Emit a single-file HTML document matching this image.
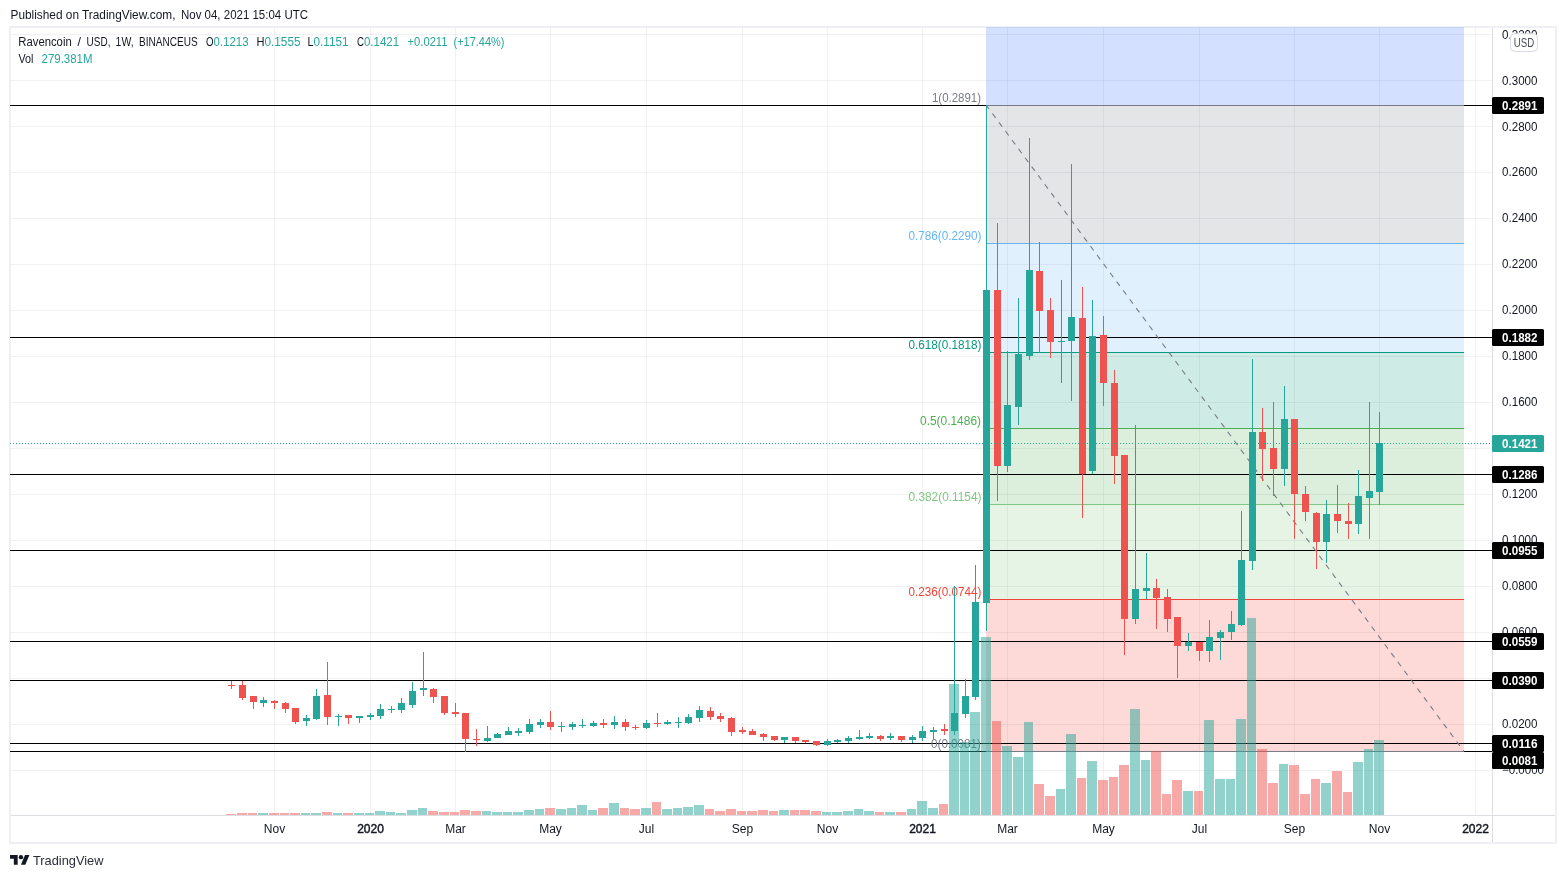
<!DOCTYPE html>
<html lang="en"><head><meta charset="utf-8"><title>RVNUSD 1W - TradingView</title>
<style>html,body{margin:0;padding:0;background:#fff;}body{width:1566px;height:878px;overflow:hidden;}svg{display:block;font-family:'Liberation Sans', sans-serif;}text{white-space:pre;}</style></head><body>
<svg width="1566" height="878" viewBox="0 0 1566 878">
<rect width="1566" height="878" fill="#fff"/>
<rect x="10" y="27" width="1546" height="816" fill="#fff" stroke="#eff0f5" stroke-width="2"/>
<g shape-rendering="crispEdges" fill="#2a2e39" fill-opacity="0.065">
<rect x="274" y="28" width="1" height="787"/>
<rect x="370" y="28" width="1" height="787"/>
<rect x="455" y="28" width="1" height="787"/>
<rect x="550" y="28" width="1" height="787"/>
<rect x="646" y="28" width="1" height="787"/>
<rect x="742" y="28" width="1" height="787"/>
<rect x="827" y="28" width="1" height="787"/>
<rect x="922" y="28" width="1" height="787"/>
<rect x="1007" y="28" width="1" height="787"/>
<rect x="1103" y="28" width="1" height="787"/>
<rect x="1199" y="28" width="1" height="787"/>
<rect x="1294" y="28" width="1" height="787"/>
<rect x="1379" y="28" width="1" height="787"/>
<rect x="1475" y="28" width="1" height="787"/>
<rect x="11" y="34" width="1481" height="1"/>
<rect x="11" y="80" width="1481" height="1"/>
<rect x="11" y="126" width="1481" height="1"/>
<rect x="11" y="172" width="1481" height="1"/>
<rect x="11" y="218" width="1481" height="1"/>
<rect x="11" y="264" width="1481" height="1"/>
<rect x="11" y="310" width="1481" height="1"/>
<rect x="11" y="356" width="1481" height="1"/>
<rect x="11" y="402" width="1481" height="1"/>
<rect x="11" y="448" width="1481" height="1"/>
<rect x="11" y="494" width="1481" height="1"/>
<rect x="11" y="540" width="1481" height="1"/>
<rect x="11" y="586" width="1481" height="1"/>
<rect x="11" y="632" width="1481" height="1"/>
<rect x="11" y="678" width="1481" height="1"/>
<rect x="11" y="724" width="1481" height="1"/>
<rect x="11" y="770" width="1481" height="1"/>
</g>
<g shape-rendering="crispEdges">
<rect x="986" y="27" width="478" height="78" fill="#2962ff" fill-opacity="0.2"/>
<rect x="986" y="105" width="478" height="138" fill="#787b86" fill-opacity="0.2"/>
<rect x="986" y="243" width="478" height="109" fill="#64b5f6" fill-opacity="0.2"/>
<rect x="986" y="352" width="478" height="76" fill="#089981" fill-opacity="0.2"/>
<rect x="986" y="428" width="478" height="76" fill="#4caf50" fill-opacity="0.2"/>
<rect x="986" y="504" width="478" height="95" fill="#81c784" fill-opacity="0.2"/>
<rect x="986" y="599" width="478" height="152" fill="#f44336" fill-opacity="0.2"/>
</g>
<g shape-rendering="crispEdges" fill="#000">
<rect x="10" y="105" width="1482" height="1"/>
<rect x="10" y="337" width="1482" height="1"/>
<rect x="10" y="474" width="1482" height="1"/>
<rect x="10" y="550" width="1482" height="1"/>
<rect x="10" y="641" width="1482" height="1"/>
<rect x="10" y="680" width="1482" height="1"/>
<rect x="10" y="743" width="1482" height="1"/>
<rect x="10" y="751" width="1482" height="1"/>
</g>
<g shape-rendering="crispEdges">
<rect x="986" y="105" width="478" height="1" fill="#787b86"/>
<rect x="986" y="243" width="478" height="1" fill="#64b5f6"/>
<rect x="986" y="352" width="478" height="1" fill="#089981"/>
<rect x="986" y="428" width="478" height="1" fill="#4caf50"/>
<rect x="986" y="504" width="478" height="1" fill="#81c784"/>
<rect x="986" y="599" width="478" height="1" fill="#f44336"/>
<rect x="986" y="751" width="478" height="1" fill="#787b86"/>
</g>
<line x1="986.5" y1="105.5" x2="1464" y2="751.5" stroke="#787b86" stroke-width="1.1" stroke-dasharray="5.4 5.6" stroke-dashoffset="1.07"/>
<text x="932" y="101.7" font-size="12" fill="#787b86" textLength="49" lengthAdjust="spacingAndGlyphs">1(0.2891)</text>
<text x="908.5" y="239.7" font-size="12" fill="#64b5f6" textLength="73" lengthAdjust="spacingAndGlyphs">0.786(0.2290)</text>
<text x="908.5" y="348.7" font-size="12" fill="#089981" textLength="73" lengthAdjust="spacingAndGlyphs">0.618(0.1818)</text>
<text x="920" y="424.7" font-size="12" fill="#4caf50" textLength="61" lengthAdjust="spacingAndGlyphs">0.5(0.1486)</text>
<text x="908.5" y="500.7" font-size="12" fill="#81c784" textLength="73" lengthAdjust="spacingAndGlyphs">0.382(0.1154)</text>
<text x="908.5" y="595.7" font-size="12" fill="#f44336" textLength="73" lengthAdjust="spacingAndGlyphs">0.236(0.0744)</text>
<text x="931" y="747.7" font-size="12" fill="#787b86" textLength="50" lengthAdjust="spacingAndGlyphs">0(0.0081)</text>
<g shape-rendering="crispEdges" fill-opacity="0.5">
<rect x="226" y="814" width="10" height="1" fill="#ef5350"/>
<rect x="237" y="813" width="10" height="2" fill="#ef5350"/>
<rect x="248" y="813" width="9" height="2" fill="#ef5350"/>
<rect x="258" y="813" width="10" height="2" fill="#26a69a"/>
<rect x="269" y="813" width="10" height="2" fill="#ef5350"/>
<rect x="280" y="813" width="9" height="2" fill="#ef5350"/>
<rect x="290" y="813" width="10" height="2" fill="#ef5350"/>
<rect x="301" y="813" width="9" height="2" fill="#26a69a"/>
<rect x="311" y="813" width="10" height="2" fill="#26a69a"/>
<rect x="322" y="812" width="10" height="3" fill="#ef5350"/>
<rect x="333" y="813" width="9" height="2" fill="#26a69a"/>
<rect x="343" y="813" width="10" height="2" fill="#ef5350"/>
<rect x="354" y="813" width="10" height="2" fill="#26a69a"/>
<rect x="365" y="813" width="9" height="2" fill="#26a69a"/>
<rect x="375" y="811" width="10" height="4" fill="#26a69a"/>
<rect x="386" y="812" width="9" height="3" fill="#26a69a"/>
<rect x="396" y="813" width="10" height="2" fill="#26a69a"/>
<rect x="407" y="810" width="10" height="5" fill="#26a69a"/>
<rect x="418" y="808" width="9" height="7" fill="#26a69a"/>
<rect x="428" y="811" width="10" height="4" fill="#ef5350"/>
<rect x="439" y="812" width="10" height="3" fill="#ef5350"/>
<rect x="450" y="812" width="9" height="3" fill="#ef5350"/>
<rect x="460" y="810" width="10" height="5" fill="#ef5350"/>
<rect x="471" y="811" width="10" height="4" fill="#ef5350"/>
<rect x="482" y="811" width="9" height="4" fill="#26a69a"/>
<rect x="492" y="812" width="10" height="3" fill="#26a69a"/>
<rect x="503" y="812" width="9" height="3" fill="#26a69a"/>
<rect x="513" y="812" width="10" height="3" fill="#26a69a"/>
<rect x="524" y="810" width="10" height="5" fill="#26a69a"/>
<rect x="535" y="809" width="9" height="6" fill="#26a69a"/>
<rect x="545" y="808" width="10" height="7" fill="#ef5350"/>
<rect x="556" y="809" width="10" height="6" fill="#26a69a"/>
<rect x="567" y="808" width="9" height="7" fill="#26a69a"/>
<rect x="577" y="805" width="10" height="10" fill="#26a69a"/>
<rect x="588" y="810" width="9" height="5" fill="#26a69a"/>
<rect x="598" y="808" width="10" height="7" fill="#ef5350"/>
<rect x="609" y="803" width="10" height="12" fill="#26a69a"/>
<rect x="620" y="808" width="9" height="7" fill="#ef5350"/>
<rect x="630" y="809" width="10" height="6" fill="#ef5350"/>
<rect x="641" y="808" width="10" height="7" fill="#26a69a"/>
<rect x="652" y="802" width="9" height="13" fill="#ef5350"/>
<rect x="662" y="809" width="10" height="6" fill="#26a69a"/>
<rect x="673" y="808" width="9" height="7" fill="#26a69a"/>
<rect x="683" y="807" width="10" height="8" fill="#26a69a"/>
<rect x="694" y="805" width="10" height="10" fill="#26a69a"/>
<rect x="705" y="809" width="9" height="6" fill="#ef5350"/>
<rect x="715" y="811" width="10" height="4" fill="#ef5350"/>
<rect x="726" y="809" width="10" height="6" fill="#ef5350"/>
<rect x="737" y="811" width="9" height="4" fill="#ef5350"/>
<rect x="747" y="811" width="10" height="4" fill="#ef5350"/>
<rect x="758" y="810" width="10" height="5" fill="#ef5350"/>
<rect x="769" y="811" width="9" height="4" fill="#ef5350"/>
<rect x="779" y="810" width="10" height="5" fill="#26a69a"/>
<rect x="790" y="810" width="9" height="5" fill="#ef5350"/>
<rect x="800" y="810" width="10" height="5" fill="#ef5350"/>
<rect x="811" y="811" width="10" height="4" fill="#ef5350"/>
<rect x="822" y="812" width="9" height="3" fill="#26a69a"/>
<rect x="832" y="812" width="10" height="3" fill="#26a69a"/>
<rect x="843" y="811" width="10" height="4" fill="#26a69a"/>
<rect x="854" y="809" width="9" height="6" fill="#26a69a"/>
<rect x="864" y="811" width="10" height="4" fill="#26a69a"/>
<rect x="875" y="812" width="9" height="3" fill="#ef5350"/>
<rect x="885" y="812" width="10" height="3" fill="#26a69a"/>
<rect x="896" y="812" width="10" height="3" fill="#ef5350"/>
<rect x="907" y="809" width="9" height="6" fill="#26a69a"/>
<rect x="917" y="801" width="10" height="14" fill="#26a69a"/>
<rect x="928" y="808" width="10" height="7" fill="#26a69a"/>
<rect x="939" y="804" width="9" height="11" fill="#ef5350"/>
<rect x="949" y="684" width="10" height="131" fill="#26a69a"/>
<rect x="960" y="742" width="9" height="73" fill="#26a69a"/>
<rect x="970" y="712" width="10" height="103" fill="#26a69a"/>
<rect x="981" y="637" width="10" height="178" fill="#26a69a"/>
<rect x="992" y="721" width="9" height="94" fill="#ef5350"/>
<rect x="1002" y="746" width="10" height="69" fill="#26a69a"/>
<rect x="1013" y="757" width="10" height="58" fill="#26a69a"/>
<rect x="1024" y="722" width="9" height="93" fill="#26a69a"/>
<rect x="1034" y="784" width="10" height="31" fill="#ef5350"/>
<rect x="1045" y="796" width="10" height="19" fill="#ef5350"/>
<rect x="1056" y="789" width="9" height="26" fill="#26a69a"/>
<rect x="1066" y="734" width="10" height="81" fill="#26a69a"/>
<rect x="1077" y="778" width="9" height="37" fill="#ef5350"/>
<rect x="1087" y="761" width="10" height="54" fill="#26a69a"/>
<rect x="1098" y="780" width="10" height="35" fill="#ef5350"/>
<rect x="1109" y="777" width="9" height="38" fill="#ef5350"/>
<rect x="1119" y="765" width="10" height="50" fill="#ef5350"/>
<rect x="1130" y="709" width="10" height="106" fill="#26a69a"/>
<rect x="1141" y="760" width="9" height="55" fill="#26a69a"/>
<rect x="1151" y="751" width="10" height="64" fill="#ef5350"/>
<rect x="1162" y="794" width="9" height="21" fill="#ef5350"/>
<rect x="1172" y="780" width="10" height="35" fill="#ef5350"/>
<rect x="1183" y="791" width="10" height="24" fill="#26a69a"/>
<rect x="1194" y="791" width="9" height="24" fill="#ef5350"/>
<rect x="1204" y="720" width="10" height="95" fill="#26a69a"/>
<rect x="1215" y="779" width="10" height="36" fill="#26a69a"/>
<rect x="1226" y="779" width="9" height="36" fill="#26a69a"/>
<rect x="1236" y="719" width="10" height="96" fill="#26a69a"/>
<rect x="1247" y="618" width="9" height="197" fill="#26a69a"/>
<rect x="1257" y="749" width="10" height="66" fill="#ef5350"/>
<rect x="1268" y="783" width="10" height="32" fill="#ef5350"/>
<rect x="1279" y="764" width="9" height="51" fill="#26a69a"/>
<rect x="1289" y="765" width="10" height="50" fill="#ef5350"/>
<rect x="1300" y="794" width="10" height="21" fill="#ef5350"/>
<rect x="1311" y="779" width="9" height="36" fill="#ef5350"/>
<rect x="1321" y="783" width="10" height="32" fill="#26a69a"/>
<rect x="1332" y="771" width="10" height="44" fill="#ef5350"/>
<rect x="1343" y="792" width="9" height="23" fill="#ef5350"/>
<rect x="1353" y="762" width="10" height="53" fill="#26a69a"/>
<rect x="1364" y="749" width="9" height="66" fill="#26a69a"/>
<rect x="1374" y="740" width="10" height="75" fill="#26a69a"/>
</g>
<g shape-rendering="crispEdges">
<rect x="231" y="681" width="1" height="8" fill="#ef5350"/>
<rect x="228" y="685" width="7" height="1" fill="#ef5350"/>
<rect x="242" y="681" width="1" height="19" fill="#ef5350"/>
<rect x="239" y="685" width="7" height="13" fill="#ef5350"/>
<rect x="253" y="696" width="1" height="13" fill="#ef5350"/>
<rect x="250" y="696" width="7" height="6" fill="#ef5350"/>
<rect x="263" y="697" width="1" height="10" fill="#26a69a"/>
<rect x="260" y="700" width="7" height="3" fill="#26a69a"/>
<rect x="274" y="700" width="1" height="9" fill="#ef5350"/>
<rect x="271" y="701" width="7" height="2" fill="#ef5350"/>
<rect x="285" y="702" width="1" height="11" fill="#ef5350"/>
<rect x="282" y="703" width="7" height="6" fill="#ef5350"/>
<rect x="295" y="708" width="1" height="16" fill="#ef5350"/>
<rect x="292" y="708" width="7" height="14" fill="#ef5350"/>
<rect x="306" y="715" width="1" height="11" fill="#26a69a"/>
<rect x="303" y="718" width="7" height="3" fill="#26a69a"/>
<rect x="316" y="689" width="1" height="31" fill="#26a69a"/>
<rect x="313" y="696" width="7" height="23" fill="#26a69a"/>
<rect x="327" y="662" width="1" height="63" fill="#ef5350"/>
<rect x="324" y="695" width="7" height="22" fill="#ef5350"/>
<rect x="338" y="714" width="1" height="12" fill="#26a69a"/>
<rect x="335" y="716" width="7" height="1" fill="#26a69a"/>
<rect x="348" y="715" width="1" height="9" fill="#ef5350"/>
<rect x="345" y="715" width="7" height="3" fill="#ef5350"/>
<rect x="359" y="716" width="1" height="7" fill="#26a69a"/>
<rect x="356" y="716" width="7" height="2" fill="#26a69a"/>
<rect x="370" y="713" width="1" height="7" fill="#26a69a"/>
<rect x="367" y="715" width="7" height="2" fill="#26a69a"/>
<rect x="380" y="704" width="1" height="15" fill="#26a69a"/>
<rect x="377" y="709" width="7" height="7" fill="#26a69a"/>
<rect x="391" y="706" width="1" height="7" fill="#26a69a"/>
<rect x="388" y="709" width="7" height="1" fill="#26a69a"/>
<rect x="401" y="698" width="1" height="15" fill="#26a69a"/>
<rect x="398" y="703" width="7" height="7" fill="#26a69a"/>
<rect x="412" y="682" width="1" height="26" fill="#26a69a"/>
<rect x="409" y="691" width="7" height="14" fill="#26a69a"/>
<rect x="423" y="652" width="1" height="44" fill="#26a69a"/>
<rect x="420" y="688" width="7" height="2" fill="#26a69a"/>
<rect x="433" y="688" width="1" height="15" fill="#ef5350"/>
<rect x="430" y="689" width="7" height="8" fill="#ef5350"/>
<rect x="444" y="696" width="1" height="19" fill="#ef5350"/>
<rect x="441" y="696" width="7" height="17" fill="#ef5350"/>
<rect x="455" y="703" width="1" height="14" fill="#ef5350"/>
<rect x="452" y="712" width="7" height="2" fill="#ef5350"/>
<rect x="465" y="713" width="1" height="39" fill="#ef5350"/>
<rect x="462" y="713" width="7" height="26" fill="#ef5350"/>
<rect x="476" y="729" width="1" height="17" fill="#ef5350"/>
<rect x="473" y="739" width="7" height="1" fill="#ef5350"/>
<rect x="487" y="726" width="1" height="16" fill="#26a69a"/>
<rect x="484" y="738" width="7" height="3" fill="#26a69a"/>
<rect x="497" y="733" width="1" height="5" fill="#26a69a"/>
<rect x="494" y="734" width="7" height="4" fill="#26a69a"/>
<rect x="508" y="727" width="1" height="8" fill="#26a69a"/>
<rect x="505" y="731" width="7" height="4" fill="#26a69a"/>
<rect x="518" y="728" width="1" height="8" fill="#26a69a"/>
<rect x="515" y="731" width="7" height="2" fill="#26a69a"/>
<rect x="529" y="719" width="1" height="15" fill="#26a69a"/>
<rect x="526" y="724" width="7" height="8" fill="#26a69a"/>
<rect x="540" y="719" width="1" height="9" fill="#26a69a"/>
<rect x="537" y="722" width="7" height="3" fill="#26a69a"/>
<rect x="550" y="711" width="1" height="19" fill="#ef5350"/>
<rect x="547" y="722" width="7" height="5" fill="#ef5350"/>
<rect x="561" y="722" width="1" height="10" fill="#26a69a"/>
<rect x="558" y="726" width="7" height="1" fill="#26a69a"/>
<rect x="572" y="722" width="1" height="8" fill="#26a69a"/>
<rect x="569" y="724" width="7" height="3" fill="#26a69a"/>
<rect x="582" y="719" width="1" height="9" fill="#26a69a"/>
<rect x="579" y="725" width="7" height="1" fill="#26a69a"/>
<rect x="593" y="721" width="1" height="6" fill="#26a69a"/>
<rect x="590" y="723" width="7" height="3" fill="#26a69a"/>
<rect x="603" y="719" width="1" height="9" fill="#ef5350"/>
<rect x="600" y="723" width="7" height="2" fill="#ef5350"/>
<rect x="614" y="716" width="1" height="13" fill="#26a69a"/>
<rect x="611" y="722" width="7" height="3" fill="#26a69a"/>
<rect x="625" y="719" width="1" height="12" fill="#ef5350"/>
<rect x="622" y="722" width="7" height="5" fill="#ef5350"/>
<rect x="635" y="725" width="1" height="5" fill="#ef5350"/>
<rect x="632" y="727" width="7" height="1" fill="#ef5350"/>
<rect x="646" y="720" width="1" height="9" fill="#26a69a"/>
<rect x="643" y="723" width="7" height="5" fill="#26a69a"/>
<rect x="657" y="713" width="1" height="14" fill="#ef5350"/>
<rect x="654" y="723" width="7" height="1" fill="#ef5350"/>
<rect x="667" y="720" width="1" height="5" fill="#26a69a"/>
<rect x="664" y="722" width="7" height="2" fill="#26a69a"/>
<rect x="678" y="717" width="1" height="11" fill="#26a69a"/>
<rect x="675" y="722" width="7" height="1" fill="#26a69a"/>
<rect x="688" y="714" width="1" height="10" fill="#26a69a"/>
<rect x="685" y="717" width="7" height="6" fill="#26a69a"/>
<rect x="699" y="706" width="1" height="16" fill="#26a69a"/>
<rect x="696" y="710" width="7" height="8" fill="#26a69a"/>
<rect x="710" y="707" width="1" height="13" fill="#ef5350"/>
<rect x="707" y="711" width="7" height="6" fill="#ef5350"/>
<rect x="720" y="713" width="1" height="9" fill="#ef5350"/>
<rect x="717" y="716" width="7" height="3" fill="#ef5350"/>
<rect x="731" y="717" width="1" height="19" fill="#ef5350"/>
<rect x="728" y="718" width="7" height="14" fill="#ef5350"/>
<rect x="742" y="727" width="1" height="7" fill="#ef5350"/>
<rect x="739" y="730" width="7" height="2" fill="#ef5350"/>
<rect x="752" y="729" width="1" height="6" fill="#ef5350"/>
<rect x="749" y="731" width="7" height="4" fill="#ef5350"/>
<rect x="763" y="733" width="1" height="8" fill="#ef5350"/>
<rect x="760" y="734" width="7" height="3" fill="#ef5350"/>
<rect x="774" y="736" width="1" height="5" fill="#ef5350"/>
<rect x="771" y="736" width="7" height="4" fill="#ef5350"/>
<rect x="784" y="737" width="1" height="6" fill="#26a69a"/>
<rect x="781" y="737" width="7" height="3" fill="#26a69a"/>
<rect x="795" y="737" width="1" height="6" fill="#ef5350"/>
<rect x="792" y="737" width="7" height="4" fill="#ef5350"/>
<rect x="805" y="740" width="1" height="3" fill="#ef5350"/>
<rect x="802" y="740" width="7" height="2" fill="#ef5350"/>
<rect x="816" y="741" width="1" height="5" fill="#ef5350"/>
<rect x="813" y="741" width="7" height="4" fill="#ef5350"/>
<rect x="827" y="739" width="1" height="7" fill="#26a69a"/>
<rect x="824" y="741" width="7" height="4" fill="#26a69a"/>
<rect x="837" y="739" width="1" height="4" fill="#26a69a"/>
<rect x="834" y="740" width="7" height="2" fill="#26a69a"/>
<rect x="848" y="736" width="1" height="7" fill="#26a69a"/>
<rect x="845" y="738" width="7" height="3" fill="#26a69a"/>
<rect x="859" y="730" width="1" height="10" fill="#26a69a"/>
<rect x="856" y="737" width="7" height="2" fill="#26a69a"/>
<rect x="869" y="733" width="1" height="6" fill="#26a69a"/>
<rect x="866" y="736" width="7" height="2" fill="#26a69a"/>
<rect x="880" y="735" width="1" height="6" fill="#ef5350"/>
<rect x="877" y="736" width="7" height="3" fill="#ef5350"/>
<rect x="890" y="733" width="1" height="7" fill="#26a69a"/>
<rect x="887" y="736" width="7" height="2" fill="#26a69a"/>
<rect x="901" y="736" width="1" height="6" fill="#ef5350"/>
<rect x="898" y="736" width="7" height="4" fill="#ef5350"/>
<rect x="912" y="735" width="1" height="8" fill="#26a69a"/>
<rect x="909" y="737" width="7" height="3" fill="#26a69a"/>
<rect x="922" y="726" width="1" height="15" fill="#26a69a"/>
<rect x="919" y="731" width="7" height="7" fill="#26a69a"/>
<rect x="933" y="727" width="1" height="12" fill="#26a69a"/>
<rect x="930" y="730" width="7" height="2" fill="#26a69a"/>
<rect x="944" y="724" width="1" height="11" fill="#ef5350"/>
<rect x="941" y="729" width="7" height="2" fill="#ef5350"/>
<rect x="954" y="586" width="1" height="149" fill="#26a69a"/>
<rect x="951" y="713" width="7" height="18" fill="#26a69a"/>
<rect x="965" y="679" width="1" height="39" fill="#26a69a"/>
<rect x="962" y="696" width="7" height="18" fill="#26a69a"/>
<rect x="975" y="565" width="1" height="135" fill="#26a69a"/>
<rect x="972" y="602" width="7" height="95" fill="#26a69a"/>
<rect x="986" y="105" width="1" height="526" fill="#26a69a"/>
<rect x="983" y="290" width="7" height="313" fill="#26a69a"/>
<rect x="997" y="223" width="1" height="278" fill="#ef5350"/>
<rect x="994" y="290" width="7" height="176" fill="#ef5350"/>
<rect x="1007" y="351" width="1" height="121" fill="#26a69a"/>
<rect x="1004" y="405" width="7" height="61" fill="#26a69a"/>
<rect x="1018" y="298" width="1" height="127" fill="#26a69a"/>
<rect x="1015" y="354" width="7" height="53" fill="#26a69a"/>
<rect x="1029" y="138" width="1" height="222" fill="#26a69a"/>
<rect x="1026" y="270" width="7" height="86" fill="#26a69a"/>
<rect x="1039" y="242" width="1" height="111" fill="#ef5350"/>
<rect x="1036" y="271" width="7" height="40" fill="#ef5350"/>
<rect x="1050" y="298" width="1" height="60" fill="#ef5350"/>
<rect x="1047" y="310" width="7" height="32" fill="#ef5350"/>
<rect x="1061" y="280" width="1" height="103" fill="#26a69a"/>
<rect x="1058" y="341" width="7" height="1" fill="#26a69a"/>
<rect x="1071" y="164" width="1" height="237" fill="#26a69a"/>
<rect x="1068" y="317" width="7" height="24" fill="#26a69a"/>
<rect x="1082" y="287" width="1" height="231" fill="#ef5350"/>
<rect x="1079" y="318" width="7" height="156" fill="#ef5350"/>
<rect x="1092" y="300" width="1" height="174" fill="#26a69a"/>
<rect x="1089" y="336" width="7" height="135" fill="#26a69a"/>
<rect x="1103" y="316" width="1" height="90" fill="#ef5350"/>
<rect x="1100" y="335" width="7" height="48" fill="#ef5350"/>
<rect x="1114" y="370" width="1" height="114" fill="#ef5350"/>
<rect x="1111" y="383" width="7" height="73" fill="#ef5350"/>
<rect x="1124" y="455" width="1" height="200" fill="#ef5350"/>
<rect x="1121" y="455" width="7" height="164" fill="#ef5350"/>
<rect x="1135" y="425" width="1" height="199" fill="#26a69a"/>
<rect x="1132" y="589" width="7" height="30" fill="#26a69a"/>
<rect x="1146" y="553" width="1" height="46" fill="#26a69a"/>
<rect x="1143" y="588" width="7" height="3" fill="#26a69a"/>
<rect x="1156" y="579" width="1" height="50" fill="#ef5350"/>
<rect x="1153" y="588" width="7" height="10" fill="#ef5350"/>
<rect x="1167" y="589" width="1" height="43" fill="#ef5350"/>
<rect x="1164" y="597" width="7" height="22" fill="#ef5350"/>
<rect x="1177" y="617" width="1" height="61" fill="#ef5350"/>
<rect x="1174" y="617" width="7" height="29" fill="#ef5350"/>
<rect x="1188" y="633" width="1" height="18" fill="#26a69a"/>
<rect x="1185" y="642" width="7" height="4" fill="#26a69a"/>
<rect x="1199" y="642" width="1" height="19" fill="#ef5350"/>
<rect x="1196" y="642" width="7" height="9" fill="#ef5350"/>
<rect x="1209" y="620" width="1" height="42" fill="#26a69a"/>
<rect x="1206" y="637" width="7" height="14" fill="#26a69a"/>
<rect x="1220" y="630" width="1" height="30" fill="#26a69a"/>
<rect x="1217" y="632" width="7" height="6" fill="#26a69a"/>
<rect x="1231" y="611" width="1" height="29" fill="#26a69a"/>
<rect x="1228" y="624" width="7" height="8" fill="#26a69a"/>
<rect x="1241" y="511" width="1" height="115" fill="#26a69a"/>
<rect x="1238" y="560" width="7" height="65" fill="#26a69a"/>
<rect x="1252" y="359" width="1" height="211" fill="#26a69a"/>
<rect x="1249" y="432" width="7" height="129" fill="#26a69a"/>
<rect x="1262" y="408" width="1" height="73" fill="#ef5350"/>
<rect x="1259" y="432" width="7" height="17" fill="#ef5350"/>
<rect x="1273" y="402" width="1" height="94" fill="#ef5350"/>
<rect x="1270" y="448" width="7" height="21" fill="#ef5350"/>
<rect x="1284" y="386" width="1" height="100" fill="#26a69a"/>
<rect x="1281" y="419" width="7" height="50" fill="#26a69a"/>
<rect x="1294" y="419" width="1" height="120" fill="#ef5350"/>
<rect x="1291" y="419" width="7" height="75" fill="#ef5350"/>
<rect x="1305" y="486" width="1" height="35" fill="#ef5350"/>
<rect x="1302" y="494" width="7" height="18" fill="#ef5350"/>
<rect x="1316" y="512" width="1" height="57" fill="#ef5350"/>
<rect x="1313" y="513" width="7" height="29" fill="#ef5350"/>
<rect x="1326" y="500" width="1" height="63" fill="#26a69a"/>
<rect x="1323" y="514" width="7" height="28" fill="#26a69a"/>
<rect x="1337" y="485" width="1" height="48" fill="#ef5350"/>
<rect x="1334" y="514" width="7" height="7" fill="#ef5350"/>
<rect x="1348" y="503" width="1" height="36" fill="#ef5350"/>
<rect x="1345" y="521" width="7" height="3" fill="#ef5350"/>
<rect x="1358" y="470" width="1" height="64" fill="#26a69a"/>
<rect x="1355" y="496" width="7" height="28" fill="#26a69a"/>
<rect x="1369" y="402" width="1" height="137" fill="#26a69a"/>
<rect x="1366" y="491" width="7" height="7" fill="#26a69a"/>
<rect x="1379" y="412" width="1" height="93" fill="#26a69a"/>
<rect x="1376" y="443" width="7" height="49" fill="#26a69a"/>
</g>
<line x1="10" y1="443.5" x2="1490" y2="443.5" stroke="#26a69a" stroke-width="1" stroke-dasharray="1 2" shape-rendering="crispEdges"/>
<text x="10.5" y="19" font-size="12" fill="#131722" textLength="165" lengthAdjust="spacingAndGlyphs">Published on TradingView.com,</text>
<text x="181" y="19" font-size="12" fill="#131722" textLength="127" lengthAdjust="spacingAndGlyphs">Nov 04, 2021 15:04 UTC</text>
<text x="18.3" y="46" font-size="12" fill="#131722" textLength="53.4" lengthAdjust="spacingAndGlyphs">Ravencoin</text>
<text x="77.5" y="46" font-size="12" fill="#131722" textLength="3.5" lengthAdjust="spacingAndGlyphs">/</text>
<text x="86.6" y="46" font-size="12" fill="#131722" textLength="23.8" lengthAdjust="spacingAndGlyphs">USD,</text>
<text x="115.6" y="46" font-size="12" fill="#131722" textLength="18" lengthAdjust="spacingAndGlyphs">1W,</text>
<text x="139" y="46" font-size="12" fill="#131722" textLength="58.6" lengthAdjust="spacingAndGlyphs">BINANCEUS</text>
<text x="206" y="46" font-size="12" fill="#131722" textLength="7.5" lengthAdjust="spacingAndGlyphs">O</text>
<text x="213.5" y="46" font-size="12" fill="#26a69a" textLength="35" lengthAdjust="spacingAndGlyphs">0.1213</text>
<text x="256.5" y="46" font-size="12" fill="#131722" textLength="8" lengthAdjust="spacingAndGlyphs">H</text>
<text x="264.5" y="46" font-size="12" fill="#26a69a" textLength="36" lengthAdjust="spacingAndGlyphs">0.1555</text>
<text x="307.5" y="46" font-size="12" fill="#131722" textLength="6" lengthAdjust="spacingAndGlyphs">L</text>
<text x="313.5" y="46" font-size="12" fill="#26a69a" textLength="35" lengthAdjust="spacingAndGlyphs">0.1151</text>
<text x="357" y="46" font-size="12" fill="#131722" textLength="7" lengthAdjust="spacingAndGlyphs">C</text>
<text x="364" y="46" font-size="12" fill="#26a69a" textLength="35" lengthAdjust="spacingAndGlyphs">0.1421</text>
<text x="407.5" y="46" font-size="12" fill="#26a69a" textLength="40" lengthAdjust="spacingAndGlyphs">+0.0211</text>
<text x="453.5" y="46" font-size="12" fill="#26a69a" textLength="51" lengthAdjust="spacingAndGlyphs">(+17.44%)</text>
<text x="18.5" y="63" font-size="12" fill="#131722" textLength="15" lengthAdjust="spacingAndGlyphs">Vol</text>
<text x="41.5" y="63" font-size="12" fill="#26a69a" textLength="51" lengthAdjust="spacingAndGlyphs">279.381M</text>
<rect x="1492" y="28" width="63" height="814" fill="#fff"/>
<rect x="1492" y="28" width="1" height="814" fill="#dcdee3" shape-rendering="crispEdges"/>
<rect x="11" y="815" width="1544" height="1" fill="#dcdee3" shape-rendering="crispEdges"/>
<text x="1502" y="38.8" font-size="12" fill="#131722" textLength="35.5" lengthAdjust="spacingAndGlyphs">0.3200</text>
<text x="1502" y="84.8" font-size="12" fill="#131722" textLength="35.5" lengthAdjust="spacingAndGlyphs">0.3000</text>
<text x="1502" y="130.8" font-size="12" fill="#131722" textLength="35.5" lengthAdjust="spacingAndGlyphs">0.2800</text>
<text x="1502" y="175.8" font-size="12" fill="#131722" textLength="35.5" lengthAdjust="spacingAndGlyphs">0.2600</text>
<text x="1502" y="221.8" font-size="12" fill="#131722" textLength="35.5" lengthAdjust="spacingAndGlyphs">0.2400</text>
<text x="1502" y="267.8" font-size="12" fill="#131722" textLength="35.5" lengthAdjust="spacingAndGlyphs">0.2200</text>
<text x="1502" y="313.8" font-size="12" fill="#131722" textLength="35.5" lengthAdjust="spacingAndGlyphs">0.2000</text>
<text x="1502" y="359.8" font-size="12" fill="#131722" textLength="35.5" lengthAdjust="spacingAndGlyphs">0.1800</text>
<text x="1502" y="405.8" font-size="12" fill="#131722" textLength="35.5" lengthAdjust="spacingAndGlyphs">0.1600</text>
<text x="1502" y="497.8" font-size="12" fill="#131722" textLength="35.5" lengthAdjust="spacingAndGlyphs">0.1200</text>
<text x="1502" y="543.8" font-size="12" fill="#131722" textLength="35.5" lengthAdjust="spacingAndGlyphs">0.1000</text>
<text x="1502" y="589.8" font-size="12" fill="#131722" textLength="35.5" lengthAdjust="spacingAndGlyphs">0.0800</text>
<text x="1502" y="635.8" font-size="12" fill="#131722" textLength="35.5" lengthAdjust="spacingAndGlyphs">0.0600</text>
<text x="1502" y="727.8" font-size="12" fill="#131722" textLength="35.5" lengthAdjust="spacingAndGlyphs">0.0200</text>
<text x="1502" y="773.8" font-size="12" fill="#131722" textLength="42" lengthAdjust="spacingAndGlyphs">−0.0000</text>
<rect x="1492" y="97" width="52" height="17" rx="1.5" fill="#000"/>
<text x="1502" y="109.8" font-size="12" fill="#fff" textLength="35.5" lengthAdjust="spacingAndGlyphs" font-weight="bold">0.2891</text>
<rect x="1492" y="329" width="52" height="17" rx="1.5" fill="#000"/>
<text x="1502" y="341.8" font-size="12" fill="#fff" textLength="35.5" lengthAdjust="spacingAndGlyphs" font-weight="bold">0.1882</text>
<rect x="1492" y="466" width="52" height="17" rx="1.5" fill="#000"/>
<text x="1502" y="478.8" font-size="12" fill="#fff" textLength="35.5" lengthAdjust="spacingAndGlyphs" font-weight="bold">0.1286</text>
<rect x="1492" y="542" width="52" height="17" rx="1.5" fill="#000"/>
<text x="1502" y="554.8" font-size="12" fill="#fff" textLength="35.5" lengthAdjust="spacingAndGlyphs" font-weight="bold">0.0955</text>
<rect x="1492" y="633" width="52" height="17" rx="1.5" fill="#000"/>
<text x="1502" y="645.8" font-size="12" fill="#fff" textLength="35.5" lengthAdjust="spacingAndGlyphs" font-weight="bold">0.0559</text>
<rect x="1492" y="672" width="52" height="17" rx="1.5" fill="#000"/>
<text x="1502" y="684.8" font-size="12" fill="#fff" textLength="35.5" lengthAdjust="spacingAndGlyphs" font-weight="bold">0.0390</text>
<rect x="1492" y="735" width="52" height="17" rx="1.5" fill="#000"/>
<text x="1502" y="747.8" font-size="12" fill="#fff" textLength="35.5" lengthAdjust="spacingAndGlyphs" font-weight="bold">0.0116</text>
<rect x="1492" y="752" width="52" height="17" rx="1.5" fill="#000"/>
<text x="1502" y="764.8" font-size="12" fill="#fff" textLength="35.5" lengthAdjust="spacingAndGlyphs" font-weight="bold">0.0081</text>
<rect x="1492" y="435" width="52" height="17" rx="1.5" fill="#26a69a"/>
<text x="1502" y="447.8" font-size="12" fill="#fff" textLength="35.5" lengthAdjust="spacingAndGlyphs" font-weight="bold">0.1421</text>
<rect x="1510.5" y="33.8" width="27" height="17.6" rx="4" fill="#fff" stroke="#d8dbe3"/>
<text x="1513.8" y="46.8" font-size="12" fill="#4a4e59" textLength="20.4" lengthAdjust="spacingAndGlyphs">USD</text>
<text x="274.5" y="833" font-size="12" fill="#131722" text-anchor="middle">Nov</text>
<text x="370.5" y="833" font-size="12" fill="#131722" text-anchor="middle" stroke="#131722" stroke-width="0.45">2020</text>
<text x="455.5" y="833" font-size="12" fill="#131722" text-anchor="middle">Mar</text>
<text x="550.5" y="833" font-size="12" fill="#131722" text-anchor="middle">May</text>
<text x="646.5" y="833" font-size="12" fill="#131722" text-anchor="middle">Jul</text>
<text x="742.5" y="833" font-size="12" fill="#131722" text-anchor="middle">Sep</text>
<text x="827.5" y="833" font-size="12" fill="#131722" text-anchor="middle">Nov</text>
<text x="922.5" y="833" font-size="12" fill="#131722" text-anchor="middle" stroke="#131722" stroke-width="0.45">2021</text>
<text x="1007.5" y="833" font-size="12" fill="#131722" text-anchor="middle">Mar</text>
<text x="1103.5" y="833" font-size="12" fill="#131722" text-anchor="middle">May</text>
<text x="1199.5" y="833" font-size="12" fill="#131722" text-anchor="middle">Jul</text>
<text x="1294.5" y="833" font-size="12" fill="#131722" text-anchor="middle">Sep</text>
<text x="1379.5" y="833" font-size="12" fill="#131722" text-anchor="middle">Nov</text>
<text x="1475.5" y="833" font-size="12" fill="#131722" text-anchor="middle" stroke="#131722" stroke-width="0.45">2022</text>
<g transform="translate(10,852.8) scale(0.547)" fill="#131722"><path d="M14 22H7V11H0V4h14v18z"/><circle cx="20" cy="8" r="4"/><path d="M28 22h-8l7.5-18h8L28 22z"/></g>
<text x="33" y="865" font-size="13" fill="#2a2e39" textLength="70.5" lengthAdjust="spacingAndGlyphs">TradingView</text>
</svg></body></html>
